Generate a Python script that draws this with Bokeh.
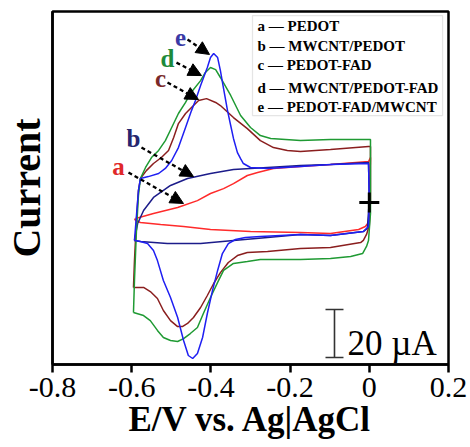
from bokeh.plotting import figure
from bokeh.models import FixedTicker, Label, Arrow, NormalHead, BoxAnnotation
from bokeh.embed import file_html
from bokeh.resources import INLINE

# ---------------- data (E in V vs Ag|AgCl, I in microampere) ----------------
x_ticks = [-0.8, -0.6, -0.4, -0.2, 0.0, 0.2]
x_tick_labels = ["-0.8", "-0.6", "-0.4", "-0.2", "0", "0.2"]

names = ["a", "b", "c", "d", "e"]
legend_texts = ["a \u2014 PEDOT", "b \u2014 MWCNT/PEDOT", "c \u2014 PEDOT-FAD",
                "d \u2014 MWCNT/PEDOT-FAD", "e \u2014 PEDOT-FAD/MWCNT"]

E_a = [-0.590, -0.545, -0.484, -0.434, -0.401, -0.368, -0.343, -0.308, -0.282, -0.242,
       -0.174, -0.098, -0.002, 0.003, 0.000, -0.002, -0.010, -0.027, -0.098, -0.174,
       -0.300, -0.401, -0.469, -0.527, -0.578, -0.590, -0.593]
I_a = [-6.7, -4.6, -2.1, 0.8, 3.75, 5.8, 7.9, 11.25, 12.5, 14.2,
       15.0, 15.8, 17.1, 18.75, 0.8, -8.3, -10.0, -11.25, -12.9, -12.5,
       -12.1, -11.25, -10.0, -9.2, -8.3, -7.5, -6.7]

E_b = [-0.593, -0.585, -0.570, -0.545, -0.502, -0.459, -0.401, -0.343, -0.257, -0.174,
       -0.098, -0.002, 0.000, -0.005, -0.015, -0.098, -0.174, -0.257, -0.343, -0.426,
       -0.510, -0.578, -0.593]
I_b = [-15.8, -8.75, -3.3, 2.1, 7.1, 10.0, 12.1, 13.75, 14.6, 15.4,
       15.8, 16.7, 0.8, -10.8, -12.1, -13.75, -13.3, -14.6, -15.8, -17.1,
       -17.1, -16.25, -15.8]

E_c = [-0.5955, -0.593, -0.588, -0.583, -0.578, -0.563, -0.545, -0.525, -0.507, -0.494,
       -0.482, -0.464, -0.449, -0.431, -0.411, -0.388, -0.376, -0.343, -0.308, -0.275,
       -0.242, -0.207, -0.174, -0.098, -0.002, 0.003, 0.003, 0.000, -0.007, -0.015,
       -0.022, -0.098, -0.174, -0.257, -0.308, -0.333, -0.356, -0.376, -0.393, -0.409,
       -0.426, -0.444, -0.459, -0.472, -0.484, -0.502, -0.520, -0.535, -0.553, -0.570,
       -0.5955]
I_c = [-35.4, -24.2, -7.5, 5.0, 10.0, 13.3, 16.25, 18.75, 21.7, 27.1,
       32.9, 37.1, 39.6, 42.5, 43.3, 41.7, 40.4, 35.4, 30.8, 25.8,
       22.9, 21.7, 21.25, 22.1, 23.3, 23.3, 0.8, -9.6, -13.3, -15.8,
       -16.7, -18.75, -19.2, -20.4, -20.8, -22.1, -25.0, -29.2, -33.75, -38.75,
       -43.75, -47.9, -50.4, -51.7, -51.7, -49.2, -45.0, -40.0, -37.1, -35.4,
       -35.4]

E_d = [-0.5955, -0.593, -0.588, -0.583, -0.578, -0.565, -0.550, -0.532, -0.515, -0.499,
       -0.482, -0.464, -0.452, -0.426, -0.414, -0.401, -0.388, -0.376, -0.350, -0.325,
       -0.300, -0.275, -0.249, -0.174, -0.098, 0.000, 0.003, 0.003, -0.002, -0.007,
       -0.017, -0.047, -0.098, -0.174, -0.275, -0.308, -0.343, -0.368, -0.383, -0.401,
       -0.419, -0.434, -0.452, -0.469, -0.484, -0.502, -0.520, -0.535, -0.553, -0.570,
       -0.5955]
I_d = [-45.8, -32.5, -11.7, 2.9, 10.0, 14.6, 18.75, 21.7, 25.8, 31.25,
       37.1, 41.7, 45.4, 50.8, 54.2, 56.25, 55.4, 52.1, 44.6, 36.25,
       31.25, 27.9, 26.7, 25.8, 26.25, 26.25, 26.25, -4.6, -15.8, -18.3,
       -21.25, -22.5, -23.3, -23.75, -23.75, -24.6, -25.4, -28.3, -33.3, -39.6,
       -46.25, -52.1, -54.6, -56.7, -57.9, -57.5, -56.25, -53.3, -49.2, -47.1,
       -45.8]

E_e = [-0.593, -0.588, -0.583, -0.578, -0.558, -0.532, -0.515, -0.499, -0.482, -0.464,
       -0.449, -0.439, -0.426, -0.409, -0.401, -0.393, -0.383, -0.376, -0.368, -0.358,
       -0.350, -0.343, -0.333, -0.325, -0.318, -0.300, -0.257, -0.174, -0.098, -0.002,
       0.000, -0.002, -0.015, -0.098, -0.174, -0.275, -0.313, -0.338, -0.356, -0.371,
       -0.383, -0.396, -0.409, -0.421, -0.434, -0.446, -0.457, -0.469, -0.484, -0.502,
       -0.520, -0.535, -0.545, -0.560, -0.578, -0.593]
I_e = [-15.8, -5.4, 5.0, 10.0, 10.8, 12.1, 14.2, 17.5, 22.9, 31.25,
       38.3, 42.5, 48.75, 56.25, 60.4, 62.1, 60.4, 55.0, 47.5, 38.3,
       32.1, 26.7, 20.8, 18.3, 16.25, 14.6, 14.2, 15.0, 15.8, 16.25,
       0.8, -10.0, -12.1, -13.75, -13.3, -14.2, -14.6, -15.4, -17.1, -21.25,
       -28.3, -36.7, -46.25, -56.25, -62.9, -65.0, -63.75, -57.5, -47.9, -39.6,
       -32.5, -24.2, -20.0, -17.1, -16.25, -15.8]

zero_E = [0.0]
zero_I = [0.0]
scale_bar_uA = 20

# ---------------- styling ----------------
curve_colors = {"a": "#ff2b2b", "b": "#1c1c8a", "c": "#8a1e1e", "d": "#1f9a33", "e": "#1f1ff2"}
label_colors = {"a": "#e0282a", "b": "#26266e", "c": "#7a2a2a", "d": "#1d8a3a", "e": "#3a3aa6"}
SERIF = "Liberation Serif"

p = figure(width=470, height=447, x_range=(-0.8, 0.2), y_range=(-67.5, 79.6),
           output_backend="svg", toolbar_location=None,
           min_border_left=52, min_border_right=22, min_border_top=11, min_border_bottom=83)
p.grid.visible = False
p.outline_line_color = "black"
p.outline_line_width = 2.5
p.background_fill_color = "white"
p.border_fill_color = "white"

ax = p.xaxis[0]
ax.ticker = FixedTicker(ticks=x_ticks)
ax.major_label_overrides = dict(zip(x_ticks, x_tick_labels))
ax.major_label_text_font = SERIF
ax.major_label_text_font_size = "30px"
ax.major_label_text_color = "black"
ax.major_label_standoff = 5
ax.axis_line_width = 2.5
ax.axis_line_color = "black"
ax.major_tick_line_width = 2.5
ax.major_tick_line_color = "black"
ax.major_tick_in = 0
ax.major_tick_out = 8
ax.minor_tick_line_color = None
ax.axis_label = "E/V vs. Ag|AgCl"
ax.axis_label_text_font = SERIF
ax.axis_label_text_font_style = "bold"
ax.axis_label_text_font_size = "35px"
ax.axis_label_text_color = "black"
ax.axis_label_standoff = 0

ay = p.yaxis[0]
ay.ticker = FixedTicker(ticks=[])
ay.major_label_text_font_size = "0px"
ay.major_label_standoff = 0
ay.major_tick_line_color = None
ay.minor_tick_line_color = None
ay.axis_line_width = 2.5
ay.axis_line_color = "black"
ay.axis_label = "Current"
ay.axis_label_text_font = SERIF
ay.axis_label_text_font_style = "bold"
ay.axis_label_text_font_size = "40px"
ay.axis_label_text_color = "black"
ay.axis_label_standoff = 4

series = {"a": (E_a, I_a), "b": (E_b, I_b), "c": (E_c, I_c), "d": (E_d, I_d), "e": (E_e, I_e)}
for k in ["a", "b", "c", "d", "e"]:
    ex, iy = series[k]
    p.line(ex, iy, line_color=curve_colors[k], line_width=1.5)

# zero-current cross
p.scatter(zero_E, zero_I, marker="cross", size=20, line_width=3, line_color="black")

# scale bar (20 uA)
sb_x, sb_y0 = -0.0879, -64.6
p.segment(x0=[sb_x, sb_x - 0.0227, sb_x - 0.0227], y0=[sb_y0, sb_y0, sb_y0 + scale_bar_uA],
          x1=[sb_x, sb_x + 0.0227, sb_x + 0.0227], y1=[sb_y0 + scale_bar_uA, sb_y0, sb_y0 + scale_bar_uA],
          line_color="#333333", line_width=1.6)
p.add_layout(Label(x=-0.0551, y=-58.75, text="20 \u00b5A", text_font=SERIF,
                   text_font_size="35px", text_color="black", text_baseline="alphabetic"))

# legend box
p.add_layout(BoxAnnotation(left=-0.295, right=0.185, top=77.9, bottom=36.25,
                           fill_color="white", fill_alpha=1.0, line_color="#a8a8a8", line_width=1.2))
legend_y = [73.75, 65.4, 57.1, 47.9, 39.6]
for t, yy in zip(legend_texts, legend_y):
    p.add_layout(Label(x=-0.2823, y=yy, text=t, text_font=SERIF, text_font_style="bold",
                       text_font_size="15px", text_color="black", text_baseline="middle"))

# curve letters and dashed arrows
letter_pos = {"e": (-0.4768, 68.75), "d": (-0.5096, 60.0), "c": (-0.5273, 51.7),
              "b": (-0.5955, 26.7), "a": (-0.6333, 15.0)}
arrow_pos = {"e": (-0.4591, 67.9, -0.4035, 61.7), "d": (-0.4869, 58.3, -0.4237, 52.9),
             "c": (-0.5096, 50.0, -0.4313, 42.9), "b": (-0.5753, 22.9, -0.4439, 10.8),
             "a": (-0.6081, 12.5, -0.4692, -0.4)}
for k in names:
    lx, ly = letter_pos[k]
    p.add_layout(Label(x=lx, y=ly, text=k, text_font=SERIF, text_font_style="bold",
                       text_font_size="25px", text_color=label_colors[k],
                       text_align="center", text_baseline="middle"))
    x0, y0, x1, y1 = arrow_pos[k]
    p.add_layout(Arrow(x_start=x0, y_start=y0, x_end=x1, y_end=y1,
                       line_color="black", line_width=2.3, line_dash="4 3",
                       end=NormalHead(size=13, fill_color="black", line_color="black", line_width=1)))

open("out.html", "w").write(file_html(p, INLINE))
